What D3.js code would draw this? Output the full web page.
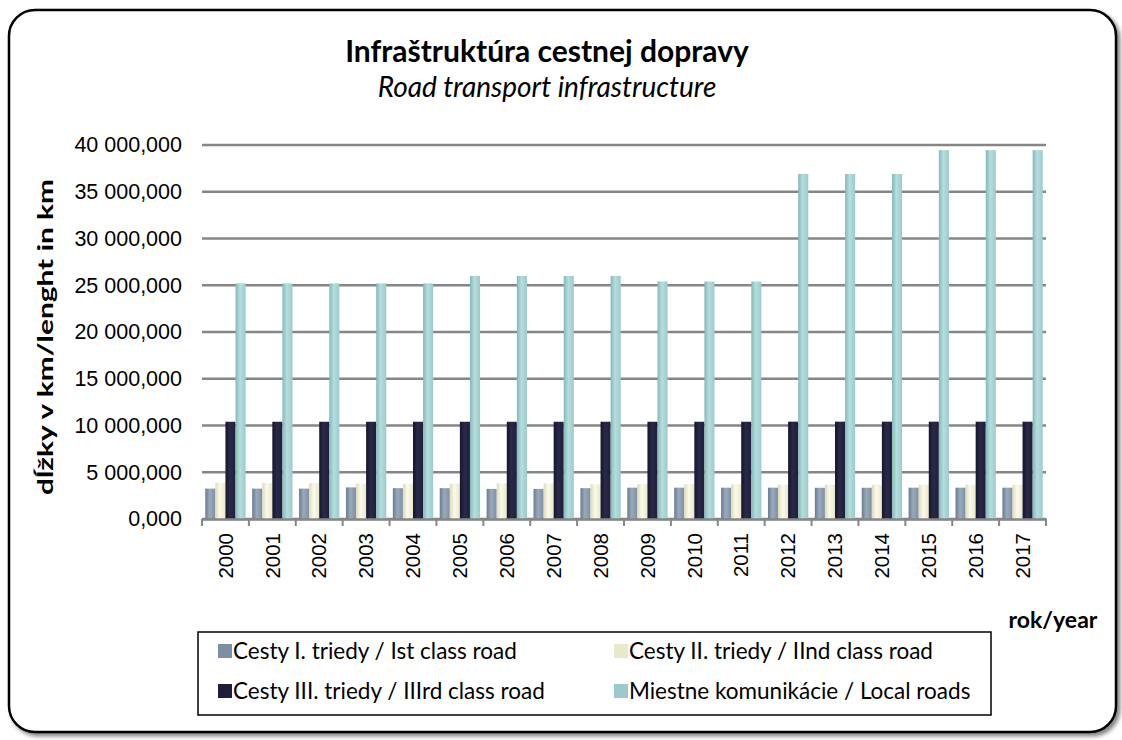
<!DOCTYPE html>
<html>
<head>
<meta charset="utf-8">
<script src="https://cdn.jsdelivr.net/npm/d3@7"></script>
<style>
  body { margin: 0; background: #fff; }
  svg { display: block; }
</style>
</head>
<body>
<div id="chart"></div>
<script>
// data (km)
var years = ['2000','2001','2002','2003','2004','2005','2006','2007','2008',
             '2009','2010','2011','2012','2013','2014','2015','2016','2017'];
var class1 = [3250,3250,3250,3380,3300,3300,3220,3220,3300,3350,3350,3350,3350,3340,3340,3350,3350,3350];
var class2 = [3850,3850,3850,3780,3780,3780,3820,3820,3720,3720,3720,3720,3670,3670,3660,3660,3660,3660];
var class3 = [10400,10400,10400,10400,10400,10400,10400,10400,10400,10400,10400,10400,10410,10410,10410,10410,10410,10410];
var local  = [25200,25200,25200,25200,25200,26000,26000,26000,26000,25400,25400,25400,36900,36900,36900,39450,39450,39450];
var seriesNames = ['Cesty I. triedy / Ist class road', 'Cesty II. triedy / IInd class road',
                   'Cesty III. triedy / IIIrd class road', 'Miestne komunikácie / Local roads'];
var yTicks = [0,5000,10000,15000,20000,25000,30000,35000,40000];

var series = [class1, class2, class3, local];
var colors = [
  ['#6b7b90','#9aaabd','#7f8fa3'],
  ['#dcdabd','#fbfae8','#e9e7cc'],
  ['#16152c','#2a2948','#1f1e3a'],
  ['#86b7b7','#b5dede','#9ccaca']
];

var W = 1122, H = 740;
var margin = {top: 145, right: 76, bottom: 221, left: 202};
var width = W - margin.left - margin.right,
    height = H - margin.top - margin.bottom;

var svg = d3.select('#chart').append('svg')
    .attr('width', W).attr('height', H);

var defs = svg.append('defs');
colors.forEach(function(c, i) {
  var g = defs.append('linearGradient').attr('id', 'grad' + i)
      .attr('x1', '0%').attr('x2', '100%').attr('y1', '0%').attr('y2', '0%');
  g.append('stop').attr('offset', '0%').attr('stop-color', c[0]);
  g.append('stop').attr('offset', '45%').attr('stop-color', c[1]);
  g.append('stop').attr('offset', '100%').attr('stop-color', c[2]);
});
var shadow = defs.append('filter').attr('id', 'shadow')
    .attr('x', '-5%').attr('y', '-5%').attr('width', '110%').attr('height', '110%');
shadow.append('feGaussianBlur').attr('in', 'SourceAlpha').attr('stdDeviation', 2);
shadow.append('feOffset').attr('dx', 3).attr('dy', 3).attr('result', 'off');
shadow.append('feComponentTransfer').append('feFuncA').attr('type', 'linear').attr('slope', 0.5);
var merge = shadow.append('feMerge');
merge.append('feMergeNode');
merge.append('feMergeNode').attr('in', 'SourceGraphic');

// outer frame
svg.append('rect')
    .attr('x', 9).attr('y', 10).attr('width', 1107).attr('height', 722)
    .attr('rx', 26).attr('ry', 26)
    .attr('fill', '#fff').attr('stroke', '#000').attr('stroke-width', 2.5)
    .attr('filter', 'url(#shadow)');

// titles
svg.append('text').attr('x', 547).attr('y', 62)
    .attr('text-anchor', 'middle')
    .style('font-family', 'Lato').style('font-weight', 'bold').style('font-size', '30px')
    .text('Infraštruktúra cestnej dopravy');
svg.append('text').attr('x', 547).attr('y', 97)
    .attr('text-anchor', 'middle')
    .style('font-family', 'Lato').style('font-style', 'italic').style('font-size', '28px')
    .text('Road transport infrastructure');

var g = svg.append('g').attr('transform', 'translate(' + margin.left + ',' + margin.top + ')');

// scales
var x0 = d3.scaleBand().domain(years).range([0, width]).paddingInner(0).paddingOuter(0);
var x1 = d3.scaleBand().domain([0,1,2,3]).range([x0.bandwidth() * 0.07, x0.bandwidth() * 0.93]);
var y = d3.scaleLinear().domain([0, 40000]).range([height, 0]);

var fmt = function(v) {
  return d3.format(',.3f')(v).replace(/,/g, ' ').replace('.', ',');
};

// grid
g.append('g').selectAll('line').data(yTicks).join('line')
    .attr('x1', 0).attr('x2', width)
    .attr('y1', function(d) { return y(d); }).attr('y2', function(d) { return y(d); })
    .attr('stroke', '#868686').attr('stroke-width', 2.5);

// y labels
var yAxis = d3.axisLeft(y).tickValues(yTicks).tickFormat(fmt).tickSize(0).tickPadding(20);
g.append('g').call(yAxis)
    .call(function(s) { s.select('.domain').remove(); })
    .selectAll('text')
    .style('font-family', 'Liberation Sans, Arial').style('font-size', '21.5px').attr('fill', '#000');

// bars
var groups = g.append('g').selectAll('g').data(years).join('g')
    .attr('transform', function(d) { return 'translate(' + x0(d) + ',0)'; });
groups.selectAll('rect')
    .data(function(d, i) { return series.map(function(s, k) { return {k: k, v: s[i]}; }); })
    .join('rect')
    .attr('x', function(d) { return x1(d.k); })
    .attr('width', x1.bandwidth())
    .attr('y', function(d) { return y(d.v); })
    .attr('height', function(d) { return height - y(d.v); })
    .attr('fill', function(d) { return 'url(#grad' + d.k + ')'; });

// x axis
var xAxis = d3.axisBottom(x0).tickSize(0).tickPadding(14);
var xg = g.append('g').attr('transform', 'translate(0,' + height + ')').call(xAxis);
xg.select('.domain').attr('stroke', '#868686').attr('stroke-width', 2.5);
xg.selectAll('text')
    .style('font-family', 'Liberation Sans, Arial').style('font-size', '20.5px').attr('fill', '#000')
    .attr('transform', 'rotate(-90)')
    .attr('text-anchor', 'end')
    .attr('x', -14).attr('y', 0).attr('dy', '0.35em');
// category separators
xg.append('g').selectAll('line').data(years.concat(['end'])).join('line')
    .attr('x1', function(d, i) { return i * x0.step(); })
    .attr('x2', function(d, i) { return i * x0.step(); })
    .attr('y1', 0).attr('y2', 7)
    .attr('stroke', '#868686').attr('stroke-width', 2);

// axis titles
svg.append('text')
    .attr('transform', 'translate(53,337) rotate(-90)')
    .attr('text-anchor', 'middle')
    .attr('textLength', 316).attr('lengthAdjust', 'spacingAndGlyphs')
    .style('font-family', 'Lato').style('font-weight', 'bold').style('font-size', '20px')
    .text('dĺžky v km/lenght in km');
svg.append('text').attr('x', 1053).attr('y', 628)
    .attr('text-anchor', 'middle')
    .style('font-family', 'Lato').style('font-weight', 'bold').style('font-size', '23px')
    .text('rok/year');

// legend
var legend = svg.append('g');
legend.append('rect')
    .attr('x', 198).attr('y', 632).attr('width', 793).attr('height', 83)
    .attr('fill', '#fff').attr('stroke', '#000').attr('stroke-width', 1.5);
var legPos = [[218, 651], [614, 651], [218, 691], [614, 691]];
seriesNames.forEach(function(n, i) {
  legend.append('rect')
      .attr('x', legPos[i][0]).attr('y', legPos[i][1] - 7)
      .attr('width', 14).attr('height', 14)
      .attr('fill', colors[i][2]);
  legend.append('text')
      .attr('x', legPos[i][0] + 15).attr('y', legPos[i][1])
      .attr('dy', '0.35em')
      .style('font-family', 'Lato').style('font-size', '22.5px')
      .text(n);
});
</script>
</body>
</html>
